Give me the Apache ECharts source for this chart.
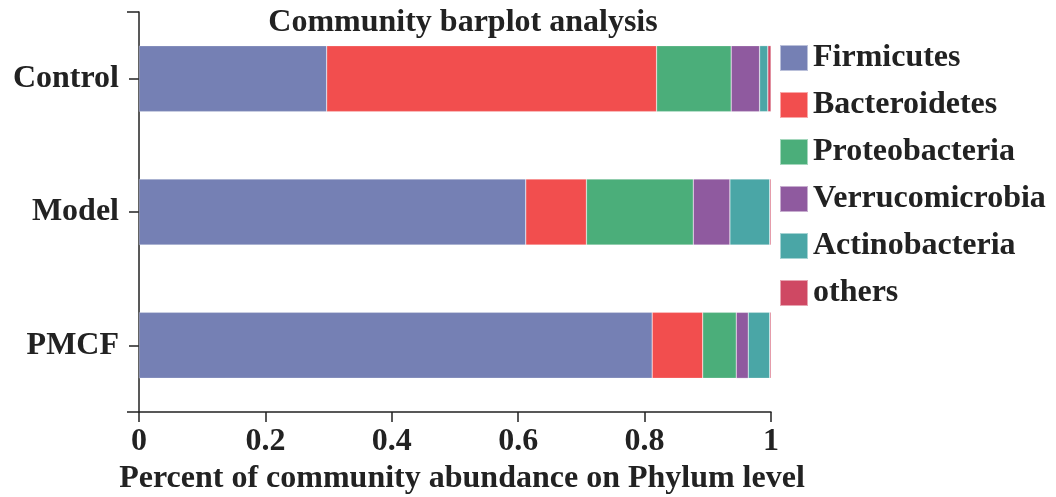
<!DOCTYPE html>
<html>
<head>
<meta charset="utf-8">
<script src="https://cdn.jsdelivr.net/npm/echarts@6/dist/echarts.min.js"></script>
<style>html,body{margin:0;padding:0;background:#fff;}#c{width:1056px;height:497px;}</style>
</head>
<body>
<div id="c"></div>
<script>
var categories = ['Control', 'Model', 'PMCF'];
var phyla = ['Firmicutes', 'Bacteroidetes', 'Proteobacteria', 'Verrucomicrobia', 'Actinobacteria', 'others'];
var firmicutes      = [0.297, 0.612, 0.812];
var bacteroidetes   = [0.522, 0.096, 0.080];
var proteobacteria  = [0.118, 0.169, 0.053];
var verrucomicrobia = [0.045, 0.058, 0.019];
var actinobacteria  = [0.013, 0.063, 0.034];
var others          = [0.005, 0.002, 0.002];
var xTicks = [0, 0.2, 0.4, 0.6, 0.8, 1];
var colors = ['#7580B4', '#F24E4E', '#4BAE7A', '#8F5A9F', '#4AA6A6', '#CF4863'];

var seriesValues = [firmicutes, bacteroidetes, proteobacteria, verrucomicrobia, actinobacteria, others];
var font = 'Liberation Serif';
var fs = 32;
var chart = echarts.init(document.getElementById('c'));
chart.setOption({
  animation: false,
  color: colors,
  title: {
    text: 'Community barplot analysis',
    left: 458, top: 2, textAlign: 'center',
    textStyle: {fontFamily: font, fontWeight: 'bold', fontSize: fs, color: '#222'}
  },
  legend: {
    orient: 'vertical', left: 774, top: 37,
    itemWidth: 28, itemHeight: 26, itemGap: 15,
    icon: 'rect',
    data: phyla,
    textStyle: {fontFamily: font, fontWeight: 'bold', fontSize: fs, color: '#222'}
  },
  grid: {left: 139, right: 285, top: 12, bottom: 85, containLabel: false, outerBoundsMode: 'none'},
  xAxis: {
    type: 'value', min: 0, max: 1, interval: 0.2,
    name: 'Percent of community abundance on Phylum level',
    nameLocation: 'middle', nameGap: 50,
    nameTextStyle: {fontFamily: font, fontWeight: 'bold', fontSize: fs, color: '#222', padding: [0, 0, 0, 14]},
    axisLine: {show: true, lineStyle: {color: '#222', width: 1.5}},
    axisTick: {show: true, length: 10, lineStyle: {color: '#222', width: 1.5}},
    splitLine: {show: false},
    axisLabel: {fontFamily: font, fontWeight: 'bold', fontSize: fs, color: '#222', margin: 14,
      formatter: function (v) { var r = Math.round(v*10)/10; return xTicks.indexOf(r) >= 0 ? String(r) : ''; }}
  },
  yAxis: [{
    type: 'category', data: categories, inverse: true,
    axisLine: {show: true, lineStyle: {color: '#222', width: 1.5}},
    axisTick: {show: true, alignWithLabel: true, length: 10, lineStyle: {color: '#222', width: 1.5}},
    axisLabel: {fontFamily: font, fontWeight: 'bold', fontSize: fs, color: '#222', margin: 20}
  }, {
    type: 'value', position: 'left', min: 0, max: 1, interval: 1,
    axisLine: {show: false},
    axisTick: {show: true, length: 12, lineStyle: {color: '#222', width: 1.5}},
    axisLabel: {show: false},
    splitLine: {show: false}
  }],
  series: phyla.map(function (name, i) {
    return {
      name: name, type: 'bar', stack: 'total', barWidth: 66,
      data: seriesValues[i],
      itemStyle: {color: colors[i], borderColor: 'rgba(255,255,255,0.5)', borderWidth: 0.5}
    };
  })
});
</script>
</body>
</html>
